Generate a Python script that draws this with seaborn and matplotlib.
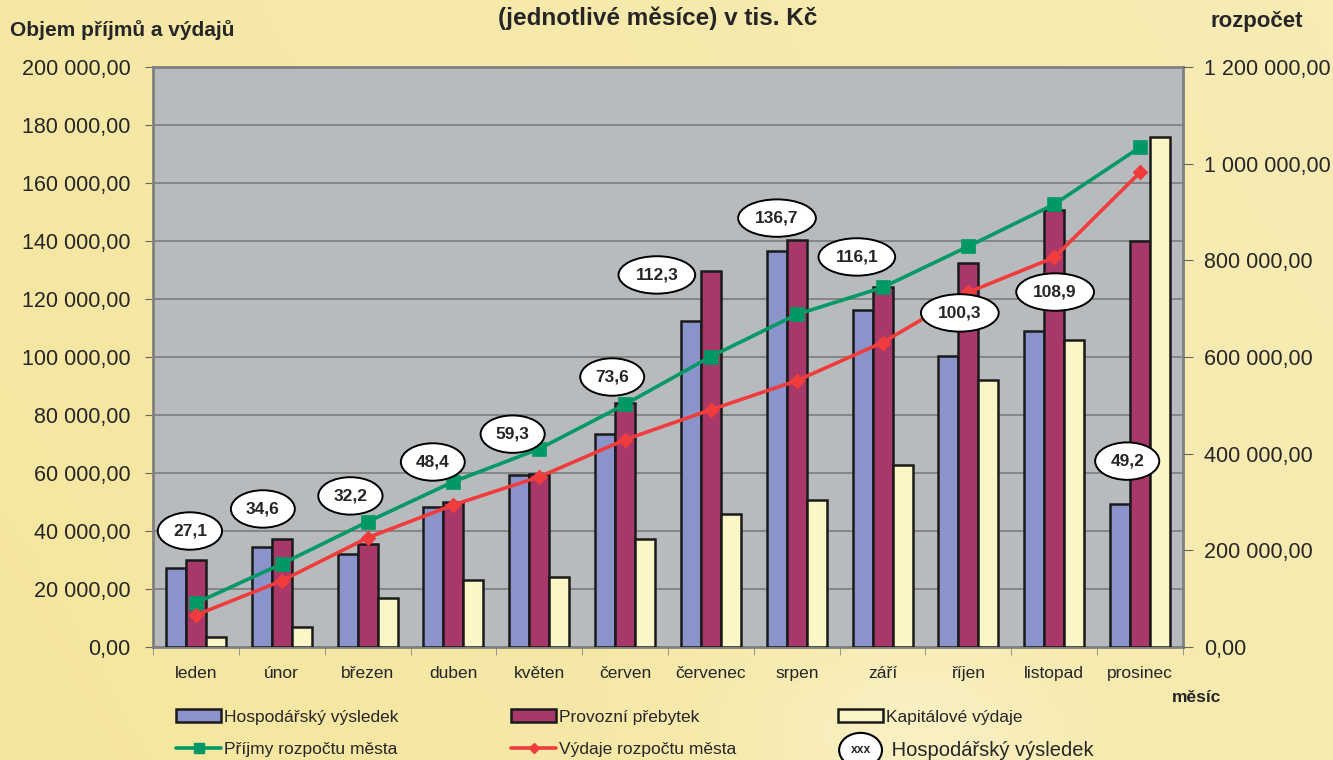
import numpy as np
import pandas as pd
import seaborn as sns
from matplotlib import pyplot as plt
from matplotlib.patches import Patch, Ellipse
from matplotlib.lines import Line2D
from matplotlib.text import Text
from matplotlib.legend_handler import HandlerBase
from matplotlib.ticker import FuncFormatter, MultipleLocator, FixedLocator

months = ['leden', 'únor', 'březen', 'duben', 'květen', 'červen',
          'červenec', 'srpen', 'září', 'říjen', 'listopad', 'prosinec']
hosp_vysledek = [27100, 34600, 32200, 48400, 59300, 73600,
                 112300, 136700, 116100, 100300, 108900, 49200]
provozni_prebytek = [30000, 37300, 35600, 50000, 59800, 84000,
                     129500, 140500, 124000, 132300, 150600, 139900]
kapitalove_vydaje = [3500, 6900, 16900, 23000, 24000, 37300,
                     46000, 50800, 62900, 91900, 105700, 175800]
prijmy = [91000, 172000, 259000, 342000, 410000, 502000,
          601000, 688000, 744000, 829000, 916000, 1034000]
vydaje = [66000, 137000, 226000, 294000, 352000, 429000,
          491000, 551000, 630000, 734000, 806000, 982000]

# where the ellipse labels sit (category units, left axis units)
label_pos = [(-0.07, 40000), (0.78, 47600), (1.80, 52100), (2.76, 63800),
             (3.69, 73400), (4.85, 93100), (5.37, 128300), (6.77, 147900),
             (7.70, 134500), (8.90, 115200), (10.01, 122400), (10.85, 64100)]

series = ['Hospodářský výsledek', 'Provozní přebytek', 'Kapitálové výdaje']
colors = ['#8b93cb', '#a8386a', '#fbf6c6']
green = '#009966'
red = '#f03c3c'


def cz(v, _=None):
    return f'{v:,.2f}'.replace(',', ' ').replace('.', ',')


class HandlerEllipse(HandlerBase):
    def create_artists(self, legend, orig_handle, xdescent, ydescent,
                       width, height, fontsize, trans):
        cx, cy = width / 2 - xdescent, height / 2 - ydescent
        e = Ellipse((cx, cy), width=width * 0.95, height=height * 2.6,
                    fc='white', ec='black', lw=1.5, transform=trans)
        t = Text(cx, cy, 'xxx', ha='center', va='center',
                 fontsize=fontsize * 0.7, fontweight='bold', transform=trans)
        return [e, t]


sns.set_style('white')
plt.rcParams['font.family'] = ['Liberation Sans', 'DejaVu Sans']

fig = plt.figure(figsize=(13.33, 7.6), dpi=100)

# yellowish background
bg = fig.add_axes([0, 0, 1, 1], zorder=-10)
gx, gy = np.meshgrid(np.linspace(0, 1, 200), np.linspace(0, 1, 120))
shade = 0.30 * gx + 0.10 * (1 - gy) + 0.40 * np.exp(-((gx - 0.68) ** 2) / 0.015 - ((gy - 0.97) ** 2) / 0.02)
c0 = np.array([0.960, 0.900, 0.620])
c1 = np.array([0.990, 0.965, 0.850])
img = c0 + (c1 - c0) * np.clip(shade, 0, 1)[..., None]
bg.imshow(img, aspect='auto', extent=[0, 1, 0, 1], origin='upper')
bg.axis('off')

ax = fig.add_axes([153 / 1333, 1 - 647 / 760, 1030 / 1333, 580 / 760])
ax.set_facecolor('#b8bbbe')

df = pd.DataFrame({
    'month': months * 3,
    'value': hosp_vysledek + provozni_prebytek + kapitalove_vydaje,
    'series': sum([[s] * len(months) for s in series], []),
})
sns.barplot(data=df, x='month', y='value', hue='series', palette=colors,
            saturation=1, width=0.7, edgecolor='#1a1a1a', linewidth=1.8,
            legend=False, ax=ax, zorder=3)

ax.set_ylim(0, 200000)
ax.set_xlim(-0.5, 11.5)
ax.yaxis.set_major_locator(MultipleLocator(20000))
ax.yaxis.set_major_formatter(FuncFormatter(cz))
ax.grid(axis='y', color='#767676', lw=1.1, zorder=0)
ax.set_axisbelow(True)
ax.set_xlabel('')
ax.set_ylabel('')
for s in ax.spines.values():
    s.set_color('#808080')
    s.set_linewidth(2.0)
ax.tick_params(axis='y', labelsize=15.5, length=6, direction='out',
               color='#666666', left=True, pad=10)
ax.tick_params(axis='x', which='major', length=0, labelsize=12.5, pad=14)
ax.xaxis.set_minor_locator(FixedLocator(np.arange(-0.5, 12, 1)))
ax.tick_params(axis='x', which='minor', length=6, color='#888888', bottom=True)

ax2 = ax.twinx()
sns.pointplot(x=months, y=prijmy, color=green, marker='s', markersize=8,
              linewidth=2.6, errorbar=None, ax=ax2)
sns.pointplot(x=months, y=vydaje, color=red, marker='D', markersize=6,
              linewidth=2.6, errorbar=None, ax=ax2)
ax2.set_ylim(0, 1200000)
ax2.set_xlim(-0.5, 11.5)
ax2.yaxis.set_major_locator(MultipleLocator(200000))
ax2.yaxis.set_major_formatter(FuncFormatter(cz))
ax2.tick_params(axis='y', labelsize=15.5, length=7, direction='out',
                color='#666666', right=True, pad=8)
ax2.set_ylabel('')
for s in ax2.spines.values():
    s.set_visible(False)

for v, (lx, ly) in zip(hosp_vysledek, label_pos):
    ax2.text(lx, ly, f'{v / 1000:.1f}'.replace('.', ','), transform=ax.transData,
             ha='center', va='center', fontsize=12.5, fontweight='bold', zorder=10,
             bbox=dict(boxstyle='ellipse,pad=0.33', fc='white', ec='black', lw=1.4))

fig.text(658 / 1333, 1 - 18 / 760, '(jednotlivé měsíce) v tis. Kč', ha='center',
         va='center', fontsize=17.5, fontweight='bold')
fig.text(10 / 1333, 1 - 30 / 760, 'Objem příjmů a výdajů', ha='left',
         va='center', fontsize=15, fontweight='bold')
fig.text(1210 / 1333, 1 - 21 / 760, 'rozpočet', ha='left',
         va='center', fontsize=16, fontweight='bold')
fig.text(1172 / 1333, 1 - 697 / 760, 'měsíc', ha='left',
         va='center', fontsize=12.5, fontweight='bold')

bar_handles = [Patch(fc=c, ec='#1a1a1a', lw=1.8) for c in colors]
line_handles = [Line2D([], [], color=green, marker='s', markersize=7, lw=2.6),
                Line2D([], [], color=red, marker='D', markersize=5, lw=2.6)]
ell = Patch(fc='white')
columns = [
    ([bar_handles[0], line_handles[0]], [series[0], 'Příjmy rozpočtu města'], 176),
    ([bar_handles[1], line_handles[1]], [series[1], 'Výdaje rozpočtu města'], 511),
    ([bar_handles[2], ell], [series[2], ' Hospodářský výsledek'], 838),
]
for handles, labels, x0 in columns:
    leg = fig.legend(handles, labels, loc='upper left',
                     bbox_to_anchor=(x0 / 1333, 1 - 709 / 760), frameon=False,
                     fontsize=12.5, handlelength=2.6, handleheight=0.8,
                     handletextpad=0.15, labelspacing=0.95, borderaxespad=0,
                     borderpad=0, handler_map={ell: HandlerEllipse()})
    if x0 == 838:
        leg.get_texts()[1].set_fontsize(14.5)

fig.savefig('out.png', dpi=100)
plt.close(fig)
